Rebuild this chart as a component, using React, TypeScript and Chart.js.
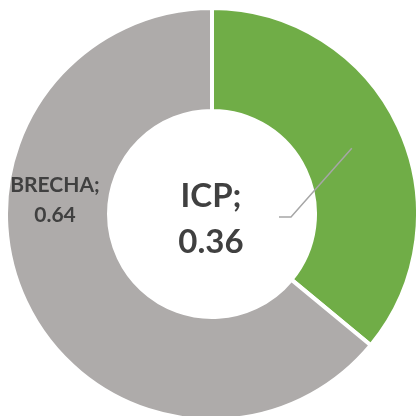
import React, { useEffect, useRef } from "react";
import { Chart, registerables } from "chart.js";

Chart.register(...registerables);

const categories = ["ICP", "BRECHA"];
const values = [0.36, 0.64];
const colors = ["#70AD47", "#AEABAA"];

const labelPlugin = {
  id: "donutLabels",
  afterDatasetsDraw(chart: any) {
    const meta = chart.getDatasetMeta(0);
    const ctx = chart.ctx;
    const arc0 = meta.data[0];
    const cx = arc0.x;
    const cy = arc0.y;
    ctx.save();
    // leader line for ICP
    const tp = arc0.tooltipPosition();
    ctx.strokeStyle = "#A6A6A6";
    ctx.lineWidth = 1.5;
    ctx.beginPath();
    ctx.moveTo(tp.x, tp.y);
    ctx.lineTo(cx + 79, cy + 3);
    ctx.lineTo(cx + 67, cy + 3);
    ctx.stroke();

    ctx.fillStyle = "#404040";
    ctx.textAlign = "center";
    ctx.textBaseline = "middle";
    ctx.font = "bold 33px Lato, 'Open Sans', sans-serif";
    ctx.fillText(categories[0] + ";", cx - 1, cy - 18);
    ctx.fillText(values[0].toFixed(2), cx - 1, cy + 28);

    ctx.font = "bold 21px Lato, 'Open Sans', sans-serif";
    ctx.fillText(categories[1] + ";", cx - 157, cy - 29);
    ctx.fillText(values[1].toFixed(2), cx - 157, cy + 1);
    ctx.restore();
  },
};

export default function App() {
  const ref = useRef<HTMLCanvasElement>(null);
  useEffect(() => {
    if (!ref.current) return;
    const chart = new Chart(ref.current, {
      type: "doughnut",
      data: {
        labels: categories,
        datasets: [
          {
            data: values,
            backgroundColor: colors,
            borderColor: "#FFFFFF",
            borderWidth: 4,
          },
        ],
      },
      options: {
        animation: false,
        responsive: true,
        maintainAspectRatio: false,
        cutout: "50%",
        rotation: 0,
        plugins: {
          legend: { display: false },
          tooltip: { enabled: false },
        },
      },
      plugins: [labelPlugin],
    });
    return () => chart.destroy();
  }, []);
  return (
    <div style={{ position: "absolute", left: 4, top: 6, width: 416, height: 416 }}>
      <canvas ref={ref} />
    </div>
  );
}
